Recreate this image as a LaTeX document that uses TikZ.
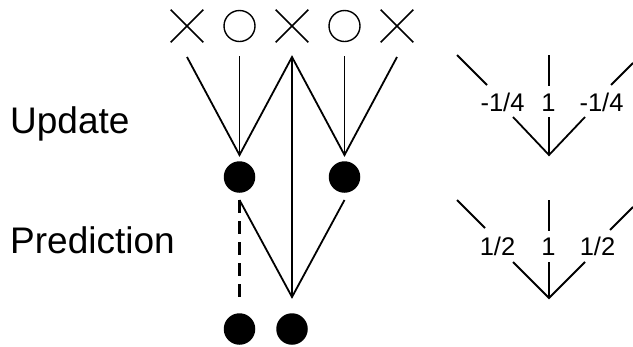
\documentclass[tikz,border=0pt]{standalone}
\usepackage{fontspec}
\setmainfont{Liberation Sans}
\usetikzlibrary{shapes.misc}
\begin{document}
\begin{tikzpicture}[x=1bp,y=-1bp,
  ln/.style={line width=1.8bp},
  dashln/.style={line width=2.6bp, dash pattern=on 13bp off 8bp},
  xsym/.style={cross out, draw, line width=1.6bp, minimum size=31bp, inner sep=0pt},
  osym/.style={circle, draw, line width=1.4bp, minimum size=31bp, inner sep=0pt},
  dot/.style={circle, fill=black, minimum size=31.5bp, inner sep=0pt},
  big/.style={font=\fontsize{37bp}{40bp}\selectfont, inner sep=0pt, anchor=base west},
  num/.style={font=\fontsize{25.5bp}{28bp}\selectfont, inner sep=0pt, anchor=base}]
\useasboundingbox (0,0) rectangle (633,346);

% top symbols
\node[xsym] (x1) at (187,26) {};
\node[osym] (o1) at (239.5,26) {};
\node[xsym] (x2) at (292,26) {};
\node[osym] (o2) at (344.5,26) {};
\node[xsym] (x3) at (397,26) {};

% line start points below the symbols
\coordinate (x1b) at (187,57);
\coordinate (o1b) at (239.5,56);
\coordinate (x2b) at (292,57);
\coordinate (o2b) at (344.5,56);
\coordinate (x3b) at (397,57);

% update points and dots
\coordinate (u1) at (239.5,155);
\coordinate (u2) at (344.5,155);
\node[dot] (d1) at (239.5,177) {};
\node[dot] (d2) at (344.5,177) {};
\coordinate (d1b) at (239.5,200);
\coordinate (d2b) at (344.5,200);
\coordinate (p) at (292,297);
\coordinate (dashend) at (239.5,303);
\node[dot] (b1) at (239.5,329) {};
\node[dot] (b2) at (292,329) {};

\draw[ln] (x1b) -- (u1) -- (x2b) -- (u2) -- (x3b);
\draw[ln] (o1b) -- (u1);
\draw[ln] (o2b) -- (u2);
\draw[ln] (x2b) -- (p);
\draw[ln] (d1b) -- (p) -- (d2b);
\draw[dashln] (d1b) -- (dashend);

% left labels
\node[big] (lu) at (10,133) {Update};
\node[big] (lp) at (10,253) {Prediction};

% right: update filter
\coordinate (ua1) at (457,55);  \coordinate (ua2) at (487,85);
\coordinate (ub1) at (549,55);  \coordinate (ub2) at (549,86);
\coordinate (uc1) at (611,85);  \coordinate (uc2) at (633,63);
\coordinate (uv1) at (513,117); \coordinate (uv2) at (549,155);
\coordinate (uv3) at (585,117); \coordinate (uv4) at (549,117);
\draw[ln] (ua1) -- (ua2);
\draw[ln] (ub1) -- (ub2);
\draw[ln] (uc1) -- (uc2);
\draw[ln] (uv1) -- (uv2) -- (uv3);
\draw[ln] (uv4) -- (uv2);
\node[num] (n1) at (502.5,111.5) {-1/4};
\node[num] (n2) at (548.5,111.5) {1};
\node[num] (n3) at (601.5,111.5) {-1/4};

% right: prediction filter
\coordinate (pa1) at (457,200); \coordinate (pa2) at (485,228);
\coordinate (pb1) at (549,200); \coordinate (pb2) at (549,231);
\coordinate (pc1) at (610,230); \coordinate (pc2) at (633,207);
\coordinate (pv1) at (513,262); \coordinate (pv2) at (549,298);
\coordinate (pv3) at (585,262); \coordinate (pv4) at (549,262);
\draw[ln] (pa1) -- (pa2);
\draw[ln] (pb1) -- (pb2);
\draw[ln] (pc1) -- (pc2);
\draw[ln] (pv1) -- (pv2) -- (pv3);
\draw[ln] (pv4) -- (pv2);
\node[num] (m1) at (497.5,255) {1/2};
\node[num] (m2) at (548.5,255) {1};
\node[num] (m3) at (597.5,255) {1/2};
\end{tikzpicture}
\end{document}
